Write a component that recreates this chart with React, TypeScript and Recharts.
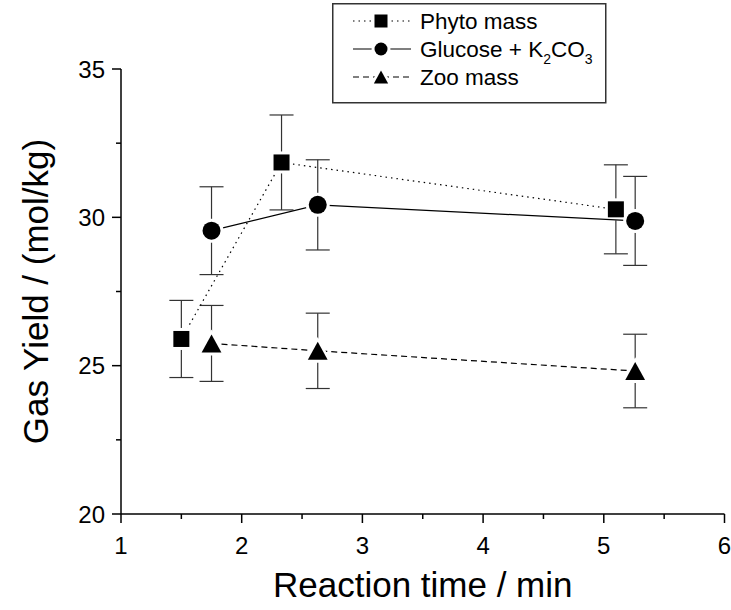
import React from "react";
import { ScatterChart, Scatter, XAxis, YAxis, ErrorBar, Legend, Label } from "recharts";

// values
const phytoTime = [1.5, 2.33, 5.1];
const phytoYield = [25.9, 31.85, 30.27];
const phytoErr = [1.3, 1.6, 1.5];

const glucoseTime = [1.75, 2.63, 5.26];
const glucoseYield = [29.55, 30.42, 29.88];
const glucoseErr = [1.48, 1.52, 1.5];

const zooTime = [1.75, 2.63, 5.26];
const zooYield = [25.75, 25.5, 24.82];
const zooErr = [1.28, 1.27, 1.24];

const xTicks = [1, 1.5, 2, 2.5, 3, 3.5, 4, 4.5, 5, 5.5, 6];
const yTicks = [20, 22.5, 25, 27.5, 30, 32.5, 35];

const FONT = "Arial, 'Liberation Sans', sans-serif";

type Pt = { x: number; y: number; err: number };

function toPoints(xs: number[], ys: number[], es: number[]): Pt[] {
  return xs.map((x, i) => ({ x, y: ys[i], err: es[i] }));
}

const phytoData = toPoints(phytoTime, phytoYield, phytoErr);
const glucoseData = toPoints(glucoseTime, glucoseYield, glucoseErr);
const zooData = toPoints(zooTime, zooYield, zooErr);

type Kind = "square" | "circle" | "triangle";

// black symbol with a white halo so lines/error bars stop short of it
function Marker({ kind, cx, cy, size }: { kind: Kind; cx: number; cy: number; size: number }) {
  const h = size / 2;
  const halo = 3;
  if (kind === "square") {
    return (
      <g>
        <rect x={cx - h - halo} y={cy - h - halo} width={size + 2 * halo} height={size + 2 * halo} fill="#fff" />
        <rect x={cx - h} y={cy - h} width={size} height={size} fill="#000" />
      </g>
    );
  }
  if (kind === "circle") {
    return (
      <g>
        <circle cx={cx} cy={cy} r={h + halo} fill="#fff" />
        <circle cx={cx} cy={cy} r={h} fill="#000" />
      </g>
    );
  }
  const w = size * 1.1;
  const tri = (pad: number) =>
    `${cx},${cy - h - pad * 1.6} ${cx - w / 2 - pad * 1.6},${cy + h + pad} ${cx + w / 2 + pad * 1.6},${cy + h + pad}`;
  return (
    <g>
      <polygon points={tri(halo)} fill="#fff" />
      <polygon points={tri(0)} fill="#000" />
    </g>
  );
}

const series = [
  { name: "Phyto mass", kind: "square" as Kind, dash: "1.5 4", data: phytoData, size: 16 },
  { name: "Glucose + K2CO3", kind: "circle" as Kind, dash: undefined, data: glucoseData, size: 18 },
  { name: "Zoo mass", kind: "triangle" as Kind, dash: "6 4", data: zooData, size: 18 },
];

function XTick(props: any) {
  const { x, y, payload } = props;
  const major = Number.isInteger(payload.value);
  return (
    <g>
      <line x1={x} x2={x} y1={y} y2={y + (major ? 9 : 5)} stroke="#000" strokeWidth={1.5} />
      {major && (
        <text x={x} y={y + 40} textAnchor="middle" fontSize={24} fontFamily={FONT} fill="#000">
          {payload.value}
        </text>
      )}
    </g>
  );
}

function YTick(props: any) {
  const { x, y, payload } = props;
  const major = Number.isInteger(payload.value) && payload.value % 5 === 0;
  return (
    <g>
      <line x1={x} x2={x - (major ? 9 : 5)} y1={y} y2={y} stroke="#000" strokeWidth={1.5} />
      {major && (
        <text x={x - 16} y={y + 8.5} textAnchor="end" fontSize={24} fontFamily={FONT} fill="#000">
          {payload.value}
        </text>
      )}
    </g>
  );
}

function LegendBox() {
  const rows = [18, 46, 74];
  return (
    <svg width={276} height={102} style={{ display: "block" }}>
      <rect x={0.75} y={0.75} width={273} height={99} fill="#fff" stroke="#333" strokeWidth={1.5} />
      {series.map((s, i) => (
        <g key={s.name}>
          <line x1={21} x2={79} y1={rows[i]} y2={rows[i]} stroke="#000" strokeWidth={1.2} strokeDasharray={s.dash} />
          <Marker kind={s.kind} cx={49} cy={rows[i]} size={13} />
          <text x={88} y={rows[i] + 8} fontSize={22.5} fontFamily={FONT} fill="#000">
            {i === 1 ? (
              <>
                Glucose + K<tspan fontSize={14} dy={7}>2</tspan>
                <tspan dy={-7}>CO</tspan>
                <tspan fontSize={14} dy={7}>3</tspan>
              </>
            ) : (
              s.name
            )}
          </text>
        </g>
      ))}
    </svg>
  );
}

export default function App() {
  return (
    <div style={{ position: "absolute", left: 0, top: 0, background: "#fff" }}>
      <ScatterChart width={731} height={610} margin={{ top: 69, right: 6.5, bottom: 0, left: 0 }}>
        <XAxis
          type="number"
          dataKey="x"
          domain={[1, 6]}
          ticks={xTicks}
          interval={0}
          tickSize={0}
          tickMargin={0}
          tickLine={false}
          tick={<XTick />}
          axisLine={{ stroke: "#000", strokeWidth: 1.5 }}
          height={96}
        >
          <Label
            value="Reaction time / min"
            position="insideBottom"
            offset={13}
            style={{ fontSize: 35, fontFamily: FONT, fill: "#000" }}
          />
        </XAxis>
        <YAxis
          type="number"
          dataKey="y"
          domain={[20, 35]}
          ticks={yTicks}
          interval={0}
          tickSize={0}
          tickMargin={0}
          tickLine={false}
          tick={<YTick />}
          axisLine={{ stroke: "#000", strokeWidth: 1.5 }}
          width={121}
        >
          <Label
            value="Gas Yield / (mol/kg)"
            angle={-90}
            position="insideLeft"
            offset={36}
            style={{ fontSize: 35, fontFamily: FONT, fill: "#000", textAnchor: "middle" }}
          />
        </YAxis>
        <Legend
          layout="vertical"
          align="center"
          verticalAlign="middle"
          wrapperStyle={{ left: 332, top: 3, width: 276, height: 102 }}
          content={() => <LegendBox />}
        />
        {series.map((s) => (
          <Scatter
            key={s.name}
            name={s.name}
            data={s.data}
            line={{ stroke: "#000", strokeWidth: 1.2, strokeDasharray: s.dash }}
            lineType="joint"
            isAnimationActive={false}
            shape={(p: any) => <Marker kind={s.kind} cx={p.cx} cy={p.cy} size={s.size} />}
          >
            <ErrorBar dataKey="err" direction="y" width={12} stroke="#333" strokeWidth={1.2} isAnimationActive={false} />
          </Scatter>
        ))}
      </ScatterChart>
    </div>
  );
}
